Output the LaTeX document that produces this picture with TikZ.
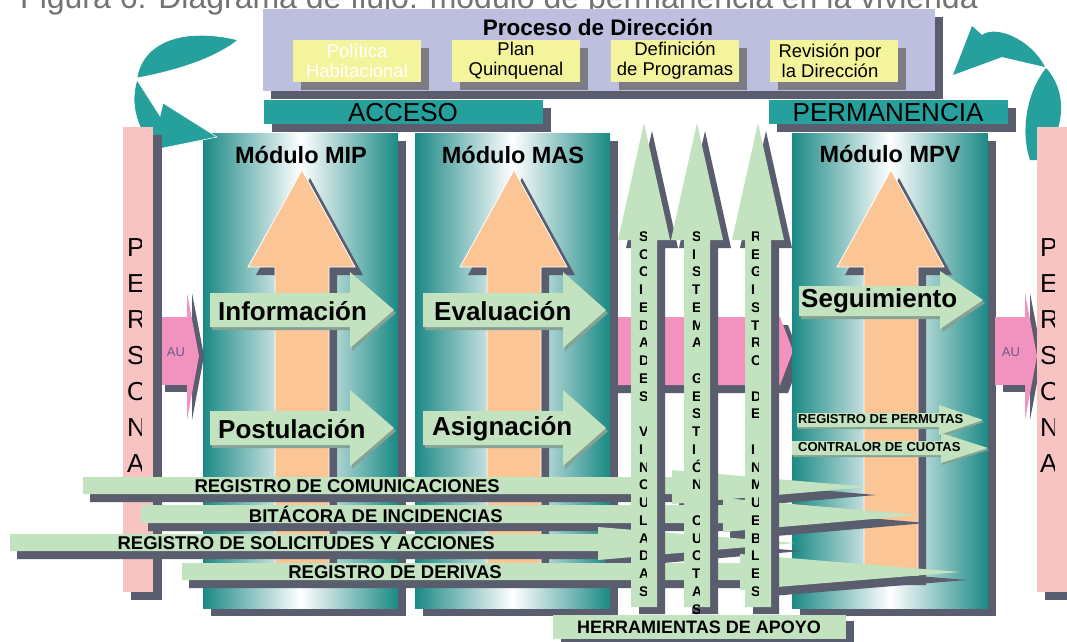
\documentclass[tikz,border=0pt]{standalone}
\usepackage{fontspec}
\setmainfont{Liberation Sans}
\newcommand\fsz[2]{\fontsize{#1}{#2}\selectfont}
% #1 style, #2 xl, #3 body top, #4 body bottom, #5 head base x, #6 head top, #7 head bottom, #8 tip x, #9 tip y
\newcommand\harrow[9]{\fill[#1] (#2,#3) -- (#5,#3) -- (#5,#6) -- (#8,#9) -- (#5,#7) -- (#5,#4) -- (#2,#4) -- cycle;}
\definecolor{shc}{HTML}{595D6E}
\definecolor{tealbar}{HTML}{25A09C}
\definecolor{modt}{HTML}{1B8985}
\definecolor{lav}{HTML}{BEBEDE}
\definecolor{yel}{HTML}{F4F49C}
\definecolor{ysh}{HTML}{7C7C84}
\definecolor{orc}{HTML}{FBC596}
\definecolor{grc}{HTML}{C3E2C0}
\definecolor{grsh}{HTML}{86A294}
\definecolor{pkbar}{HTML}{F8C3C3}
\definecolor{pkarr}{HTML}{F293BF}
\definecolor{titg}{HTML}{737373}
\definecolor{aut}{HTML}{6B5B8A}
\begin{document}
\begin{tikzpicture}[x=1pt,y=-1pt,every node/.style={inner sep=0pt},
  orarr/.pic={
    \fill[shc] (-46,275) -- (8,178) -- (61,275) -- (35,275) -- (35,585) -- (-19,585) -- (-19,275) -- cycle;
    \filldraw[fill=orc,draw=white,line width=0.8pt] (-54,267) -- (0,170) -- (53,267) -- (27,267) -- (27,577) -- (-27,577) -- (-27,267) -- cycle;
  },
  varr/.pic={
    \fill[shc] (-18,248) -- (8,131) -- (34,248) -- (21,248) -- (21,614) -- (-5,614) -- (-5,248) -- cycle;
    \fill[grc] (-26,240) -- (0,123) -- (26,240) -- (13,240) -- (13,607) -- (-13,607) -- (-13,240) -- cycle;
  },
  modbox/.style={left color=modt,right color=modt,middle color=white},
  bigtxt/.style={font=\bfseries\fsz{26}{30}},
  regtxt/.style={font=\bfseries\fsz{18.5}{22},anchor=east},
  vtxt/.style={font=\bfseries\fsz{14}{17.75},align=left,anchor=north west},
  pertxt/.style={font=\fsz{26}{36},align=left,anchor=north west},
  ytxt/.style={font=\fsz{18.5}{20},align=center}]
\useasboundingbox (0,0) rectangle (1067,641);
\fill[white] (0,0) rectangle (1067,641);

% title (cut at top, as in the reference)
\node[anchor=base west,text=titg,font=\fsz{32}{36}] (title) at (20,8) {Figura 6: Diagrama de flujo: módulo de permanencia en la vivienda};

% Proceso de Direccion
\fill[shc] (271,17) rectangle (943,99);
\fill[lav] (263,9) rectangle (935,91);
\node[font=\bfseries\fsz{22.5}{26}] (proc) at (598,27) {Proceso de Dirección};
\foreach \x in {293,452,611,770}{
  \fill[ysh] (\x+8,48) rectangle (\x+136,90);
  \fill[yel] (\x,40) rectangle (\x+128,82);
}
\node[ytxt,text=white] (pol) at (357,61) {Política\\Habitacional};
\node[ytxt] (plan) at (516,61) {Plan\\Quinquenal};
\node[ytxt] (defp) at (675,61) {Definición\\de Programas};
\node[ytxt] (rev) at (830,61) {Revisión por\\la Dirección};

% ACCESO / PERMANENCIA
\fill[shc] (272,108) rectangle (551,132);
\fill[tealbar] (264,100) rectangle (543,124);
\node[font=\fsz{26}{30}] (acc) at (403,113) {ACCESO};
\fill[shc] (777,108) rectangle (1016,132);
\fill[tealbar] (769,100) rectangle (1008,124);
\node[font=\fsz{26}{30}] (perm) at (888,113) {PERMANENCIA};

% middle pink arrow (behind modules)
\fill[shc] (488,325) -- (788,325) -- (801,359) -- (788,393) -- (488,393) -- cycle;
\fill[pkarr] (480,317) -- (780,317) -- (793,351) -- (780,385) -- (480,385) -- cycle;

% modules
\fill[shc] (211,141) rectangle (406,616);
\shade[modbox] (203,133) rectangle (398,608);
\fill[shc] (423,141) rectangle (618,616);
\shade[modbox] (415,133) rectangle (610,608);
\fill[shc] (800,141) rectangle (996,616);
\shade[modbox] (792,133) rectangle (988,608);
\node[font=\bfseries\fsz{23.5}{26}] (mip) at (301,155) {Módulo MIP};
\node[font=\bfseries\fsz{23.5}{26}] (mas) at (513,155) {Módulo MAS};
\node[font=\bfseries\fsz{23.5}{26}] (mpv) at (890,154) {Módulo MPV};

% orange up arrows
\pic at (302,0) {orarr};
\pic at (514,0) {orarr};
\pic at (891,0) {orarr};

% green step arrows inside modules
\harrow{grsh,shift={(2,3)}}{210}{293}{327}{350}{272}{348}{394}{310}
\harrow{grc}{210}{293}{327}{350}{272}{348}{394}{310}
\harrow{grsh,shift={(2,3)}}{210}{411}{445}{350}{390}{466}{394}{428}
\harrow{grc}{210}{411}{445}{350}{390}{466}{394}{428}
\harrow{grsh,shift={(2,3)}}{423}{293}{327}{563}{272}{348}{606}{310}
\harrow{grc}{423}{293}{327}{563}{272}{348}{606}{310}
\harrow{grsh,shift={(2,3)}}{423}{411}{445}{563}{390}{466}{606}{428}
\harrow{grc}{423}{411}{445}{563}{390}{466}{606}{428}
\harrow{grsh,shift={(2,3)}}{799}{286}{316}{940}{271}{329}{983}{300}
\harrow{grc}{799}{286}{316}{940}{271}{329}{983}{300}
\harrow{grsh,shift={(1,2)}}{797}{413}{427}{939}{405}{435}{983}{420}
\harrow{grc}{797}{413}{427}{939}{405}{435}{983}{420}
\harrow{grsh,shift={(1,2)}}{792}{441}{455}{941}{433}{463}{988}{448}
\harrow{grc}{792}{441}{455}{941}{433}{463}{988}{448}
\node[bigtxt,anchor=west] (info) at (218,311) {Información};
\node[bigtxt,anchor=west] (post) at (218,429) {Postulación};
\node[bigtxt,anchor=west] (eval) at (434,311) {Evaluación};
\node[bigtxt,anchor=west] (asig) at (432,429) {Asignación};
\node[bigtxt,anchor=west] (seg) at (801,301) {Seguimiento};
\node[font=\bfseries\fsz{13}{15},anchor=west] (permu) at (798,419) {REGISTRO DE PERMUTAS};
\node[font=\bfseries\fsz{13}{15},anchor=west] (contr) at (798,447) {CONTRALOR DE CUOTAS};

% teal curved arrows
\filldraw[fill=tealbar,draw=white,line width=0.6pt] (137,78) .. controls (142,44) and (180,26) .. (238,40) .. controls (214,59) and (175,71) .. (137,78) -- cycle;
\filldraw[fill=tealbar,draw=white,line width=0.6pt] (137,80) -- (160,116) -- (163,103) -- (217,137) -- (163,148) -- (156,150) .. controls (138,132) and (129,105) .. (137,80) -- cycle;
\fill[tealbar] (972,26) -- (953,75) -- (1002,57) -- (1045,67) .. controls (1030,38) and (995,25) .. (982,35) -- cycle;
\fill[tealbar] (1046,68) .. controls (1068,92) and (1066,130) .. (1040,160) -- (1030,160) .. controls (1020,130) and (1027,92) .. (1046,68) -- cycle;

% AU arrows
\fill[shc] (165,385) rectangle (188,392);
\fill[pkarr] (162,317) rectangle (192,385);
\fill[shc] (192,293) -- (204,356) -- (192,420) -- cycle;
\fill[pkarr] (187,293) -- (199,356) -- (187,420) -- cycle;
\node[font=\fsz{13}{15},text=aut] (au1) at (176,352) {AU};
\fill[shc] (1003,385) rectangle (1027,392);
\fill[pkarr] (995,317) rectangle (1027,385);
\fill[shc] (1030,293) -- (1042,356) -- (1030,420) -- cycle;
\fill[pkarr] (1025,293) -- (1037,356) -- (1025,420) -- cycle;
\node[font=\fsz{13}{15},text=aut] (au2) at (1011,352) {AU};

% PERSONA bars
\fill[shc] (131,135) rectangle (162,600);
\fill[pkbar] (123,127) rectangle (153,592);
\begin{scope}
  \clip (123,127) rectangle (141,592);
  \node[pertxt] (pers1) at (127,238.7) {P\\E\\R\\S\\O\\N\\A};
\end{scope}
\fill[shc] (1045,135) rectangle (1075,600);
\fill[pkbar] (1037,127) rectangle (1070,592);
\begin{scope}
  \clip (1037,127) rectangle (1054,592);
  \node[pertxt] (pers2) at (1040,238.7) {P\\E\\R\\S\\O\\N\\A};
\end{scope}

% horizontal tool arrows
\harrow{shc,shift={(7,8)}}{83}{477}{494}{672}{470}{504}{869}{487}
\harrow{grc}{83}{477}{494}{672}{470}{504}{869}{487}
\harrow{shc,shift={(7,8)}}{141}{505}{523}{723}{498}{532}{919}{515}
\harrow{grc}{141}{505}{523}{723}{498}{532}{919}{515}
\harrow{shc,shift={(7,8)}}{10}{534}{551}{598}{527}{560}{795}{543}
\harrow{grc}{10}{534}{551}{598}{527}{560}{795}{543}
\harrow{shc,shift={(7,8)}}{182}{563}{580}{740}{554}{590}{960}{572}
\harrow{grc}{182}{563}{580}{740}{554}{590}{960}{572}
\node[regtxt] (rcom) at (500,486) {REGISTRO DE COMUNICACIONES};
\node[regtxt] (rbit) at (503,514) {BITÁCORA DE INCIDENCIAS};
\node[regtxt] (rsol) at (495,543) {REGISTRO DE SOLICITUDES Y ACCIONES};
\node[regtxt] (rder) at (502,572) {REGISTRO DE DERIVAS};

% vertical tool arrows
\pic at (644,0) {varr};
\pic at (697,0) {varr};
\pic at (758,0) {varr};
\begin{scope}
  \clip (638,225) rectangle (646.5,614);
  \node[vtxt] (soc) at (639,231.5) {S\\O\\C\\I\\E\\D\\A\\D\\E\\S\\\mbox{}\\V\\I\\N\\C\\U\\L\\A\\D\\A\\S};
\end{scope}
\begin{scope}
  \clip (691,225) rectangle (699.5,614);
  \node[vtxt] (sis) at (692,231.5) {S\\I\\S\\T\\E\\M\\A\\\mbox{}\\G\\E\\S\\T\\I\\Ó\\N\\\mbox{}\\C\\U\\O\\T\\A\\S};
\end{scope}
\begin{scope}
  \clip (750,225) rectangle (758.5,614);
  \node[vtxt] (inm) at (751,231.5) {R\\E\\G\\I\\S\\T\\R\\O\\\mbox{}\\D\\E\\\mbox{}\\I\\N\\M\\U\\E\\B\\L\\E\\S};
\end{scope}

% Herramientas de apoyo
\fill[shc] (561,621) rectangle (854,645);
\fill[grc] (553,615) rectangle (846,639);
\node[font=\bfseries\fsz{18}{21}] (herr) at (699,627) {HERRAMIENTAS DE APOYO};
\end{tikzpicture}
\end{document}
